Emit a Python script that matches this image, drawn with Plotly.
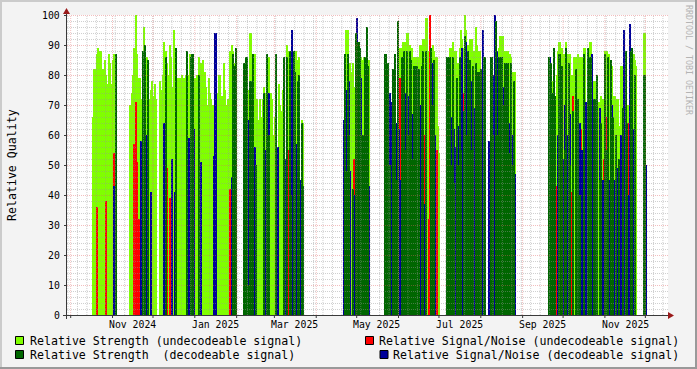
import plotly.graph_objects as go
import pandas as pd

# ---------------- data (daily values, 0 = no value) ----------------
REGION_START = ["2024-10-17", "2024-11-14", "2024-12-06", "2025-02-06", "2025-04-21",
                "2025-05-22", "2025-07-07", "2025-08-07", "2025-09-20", "2025-11-30"]

# Relative Strength (undecodeable signal)
STRENGTH_UNDEC = [
    [66,82,82,87,89,88,88,78,82,85,80,77,87,84,77,85,87,85],
    [70,74,80,89,100,87,79,79,72,85,96,85,86,74,72,75,78,73,77,72],
    [78,75,80,91,88,84,80,90,86,76,95,84,85,79,79,79,80,79,79,80,88,80,87,86,87,73,
     79,80,75,86,84,74,85,81,76,70,79,74,72,70,66,70,74,71,80,68,73,84,75,70,72,68,88,90,88,84,86],
    [0,0,0,0,75,94,80,0,87,64, 72,65,72,66,72,76,74,0,78,86, 74,72,60,66,0,0,77,70,68,75,
     0,0,90,88,0,0,0,0,88,88, 85,86,0,65,64],
    [0,87,95,95,81,84,81,84,76,0, 0,0,0,86,85,86,0,0,85,85],
    [0,0,0,0,62,0,0,86,0,86, 89,89,89,91,91,91,94,94,90,89, 89,86,86,86,86,86,90,90,92,92,
     99,99,88,0,0,90,88,86,86,63, 54],
    [0,0,89,89,91,88,88,84,84,89, 95,92,89,100,95,90,90,92,92,88, 88,96,90,88,88,0,0,0,0],
    [0,0,0,0,0,98,0,89,93,93, 93,73,88,88,88,87,86,81,81,81],
    [0,0,0,78,89,0,80,88,91,89, 89,87,87,91,87,87,87,80,78,86, 86,86,87,86,86,86,89,89,0,80,
     77,91,0,78,78,70,70,71,71,73, 72,72,88,88,87,87,83,83,73,73, 72,72,63,63,83,83,0,0,70,70,
     0,0,87,87,85,83],
    [94,0],
]

# Relative Signal/Noise (undecodeable signal)
SNR_UNDEC = [
    [0,0,0,36,0,0,0,0,0,0, 38,0,0,0,0,0,54,0],
    [0,0,0,57,71,51,32,0,0,0, 0,0,0,0,0,0,0,0,0,0],
    [0,0,0,0,0,49,0,39,0,0, 0,0,0,0,0,0,0,0,0,0, 0,0,0,0,0,0,0,0,0,0, 0,0,0,0,0,0,0,0,0,0,
     0,0,0,0,0,0,0,0,0,0, 0,0,42,0,0,0,0],
    [0,0,0,0,0,0,76,0,0,0, 0,0,0,0,0,0,0,0,0,0, 0,0,0,0,0,0,0,0,0,0, 0,0,0,55,0,0,0,0,0,0,
     0,0,0,0,0],
    [0,0,0,0,0,0,0,0,52,0, 0,0,0,0,0,0,0,0,0,0],
    [0,0,0,0,0,0,0,0,0,0, 0,79,0,0,0,0,0,0,0,0, 0,0,72,0,0,0,0,0,0,60, 0,0,32,100,0,0,0,0,55,0,
     0],
    [0,0,0,0,0,0,0,0,0,0, 0,0,74,0,0,0,0,0,0,0, 0,0,0,0,0,0,0,0,0],
    [0,0,0,0,0,0,0,0,0,0, 0,0,0,64,0,0,0,0,0,0],
    [0,0,0,0,0,0,43,0,0,46, 0,0,0,0,0,0,0,41,73,0, 0,0,0,0,62,0,0,0,0,0, 0,0,0,0,0,0,0,0,0,0,
     0,52,0,66,0,0,0,0,0,0, 0,0,0,36,0,0,0,0,0,64, 0,0,0,0,0,0],
    [0,0],
]

# Relative Signal/Noise (decodeable signal)
SNR_DEC = [
    [0,0,0,0,0,0,0,0,0,0, 0,0,0,0,0,0,43,0],
    [0,0,0,0,0,0,0,0,58,0, 0,0,60,0,0,41,0,0,0,0],
    [0,0,0,64,0,0,0,0,0,52, 0,41,0,0,0,0,0,0,0,0, 0,59,55,0,0,62,0,0,0,0, 51,0,0,0,0,0,0,0,0,0,
     53,94,0,0,0,0,0,0,0,0, 0,0,0,46,0,0,0],
    [0,0,0,0,65,0,0,0,56,0, 0,0,0,0,0,0,55,0,0,74, 0,0,0,0,0,56,0,0,0,0, 0,52,0,0,0,53,95,0,0,57,
     0,0,45,0,0],
    [65,0,75,0,78,48,0,0,40,0, 99,0,0,79,0,58,0,0,0,43],
    [0,65,0,74,0,71,0,0,64,0, 62,45,0,68,0,74,0,73,0,0, 67,0,50,0,74,0,70,0,0,37, 0,0,0,0,0,84,0,60,0,0,
     0],
    [0,68,0,66,0,62,56,0,63,0, 83,89,0,0,91,0,79,0,78,0, 69,0,74,0,67,0,95,0,0],
    [58,0,0,80,100,0,88,0,80,0, 76,0,0,40,0,64,0,60,0,47],
    [0,86,0,0,0,0,0,60,0,0, 0,52,70,0,60,0,67,0,0,0, 0,60,0,64,0,55,0,0,71,0, 0,0,87,0,0,58,0,0,69,0,
     45,0,0,0,0,45,0,70,0,45, 0,49,0,0,60,0,95,0,0,40, 97,0,0,62,0,0],
    [0,50],
]

# Relative Strength (decodeable signal)
STRENGTH_DEC = [
    [0,0,0,0,0,0,0,0,0,0, 0,0,0,0,0,0,0,87],
    [0,0,0,0,0,0,0,0,0,88, 0,90,0,85,0,0,0,0,0,0],
    [0,0,0,0,86,0,0,0,0,0, 0,0,89,0,0,0,0,0,0,0, 88,0,0,86,87,0,0,0,0,80, 0,0,0,0,0,0,0,0,0,0,
     0,0,0,0,0,0,0,0,0,0, 0,0,0,0,87,83,89],
    [84,73,86,10,0,78,0,87,0,50, 0,0,0,0,0,74,0,87,0,60, 0,0,0,0,87,0,0,0,0,0, 86,0,86,0,88,40,0,88,81,0,
     78,80,0,64,43],
    [0,87,48,87,60,0,0,42,0,94, 0,91,89,55,60,0,86,96,83,0],
    [87,0,84,50,0,0,82,87,45,98, 0,0,86,50,88,55,88,60,88,85, 52,83,0,83,48,82,0,83,88,0, 88,0,0,0,89,70,85,0,0,0,
     0],
    [86,0,86,50,86,44,0,79,50,86, 55,0,68,93,60,88,58,85,55,83, 0,84,60,81,45,82,0,86,86],
    [0,86,86,60,0,98,60,86,70,86, 55,70,84,0,84,54,84,50,78,0],
    [86,0,84,74,89,73,0,0,87,0, 83,0,55,89,0,84,50,0,68,0, 82,0,72,40,0,0,87,0,0,89, 86,86,0,0,72,0,80,0,45,64,
     0,0,87,55,86,0,85,45,66,0, 60,0,52,0,0,69,0,88,64,0, 0,88,89,0,80,0],
    [80,0],
]

Y_TICKS = [0, 10, 20, 30, 40, 50, 60, 70, 80, 90, 100]
X_LABELS = ["Nov 2024", "Jan 2025", "Mar 2025", "May 2025", "Jul 2025", "Sep 2025", "Nov 2025"]
X_LABEL_DATES = ["2024-11-16", "2025-01-16", "2025-03-16", "2025-05-16", "2025-07-16", "2025-09-16", "2025-11-16"]

SERIES_NAMES = ["Relative Strength (undecodeable signal)",
                "Relative Signal/Noise (undecodeable signal)",
                "Relative Strength\u00a0 (decodeable signal)",
                "Relative Signal/Noise (decodeable signal)"]
C_LG, C_RED, C_DG, C_BLUE = "#80ff00", "#ff0000", "#006600", "#000099"

# ---------------- geometry ----------------
W, H = 697, 369
ML, MR, MT, MB = 67, 29, 15, 54
PW, PH = W - ML - MR, H - MT - MB
ORIGIN = pd.Timestamp("2024-10-01")
ORIGIN_PX, PX_PER_DAY = 70.7, 1.349


def xp(px):
    return (px - ML) / PW


def yp(py):
    return (MT + PH - py) / PH


x_left = ORIGIN + pd.Timedelta(days=(ML - ORIGIN_PX) / PX_PER_DAY)
x_right = ORIGIN + pd.Timedelta(days=(ML + PW - ORIGIN_PX) / PX_PER_DAY)


def build(series):
    xs, ys = [], []
    for start, vals in zip(REGION_START, series):
        days = pd.date_range(start, periods=len(vals), freq="D") + pd.Timedelta(hours=12)
        for d, v in zip(days, vals):
            if v > 0:
                xs.append(d)
                ys.append(v)
    return xs, ys


for s in (SNR_UNDEC, SNR_DEC, STRENGTH_DEC):
    for a, b in zip(STRENGTH_UNDEC, s):
        assert len(a) == len(b), (len(a), len(b))

fig = go.Figure()
for series, color in ((STRENGTH_UNDEC, C_LG), (SNR_UNDEC, C_RED), (SNR_DEC, C_BLUE), (STRENGTH_DEC, C_DG)):
    xs, ys = build(series)
    fig.add_trace(go.Bar(x=xs, y=ys, width=86400000 * 1.2, marker=dict(color=color, line=dict(width=0)),
                         showlegend=False, hoverinfo="skip"))

shapes = []
GRID_MINOR = "rgba(150,150,150,0.45)"
GRID_MAJOR = "rgba(225,100,100,0.42)"
AXIS = "#3a3a3a"
ARROW = "#9a1a1a"

# horizontal grid
for v in range(2, 101, 2):
    col = GRID_MAJOR if v % 10 == 0 else GRID_MINOR
    yv = v - 0.5 / 3
    shapes.append(dict(type="line", xref="paper", yref="y", x0=0, x1=1, y0=yv, y1=yv,
                       line=dict(color=col, width=1, dash="1px,1px"), layer="above"))
# vertical minor grid (weekly, Sundays)
for d in pd.date_range("2024-09-29", "2025-12-14", freq="7D"):
    shapes.append(dict(type="line", xref="x", yref="paper", x0=d, x1=d, y0=0, y1=1,
                       line=dict(color=GRID_MINOR, width=1, dash="1px,1px"), layer="above"))
# vertical major grid (month starts) + ticks
for d in pd.date_range("2024-10-01", "2025-12-01", freq="MS"):
    shapes.append(dict(type="line", xref="x", yref="paper", x0=d, x1=d, y0=0, y1=1,
                       line=dict(color=GRID_MAJOR, width=1, dash="1px,1px"), layer="above"))
    shapes.append(dict(type="line", xref="x", yref="paper", x0=d, x1=d, y0=yp(315), y1=yp(318),
                       line=dict(color=AXIS, width=1), layer="above"))
# y ticks
for v in Y_TICKS:
    yv = v - 0.5 / 3
    shapes.append(dict(type="line", xref="paper", yref="y", x0=xp(64), x1=xp(67), y0=yv, y1=yv,
                       line=dict(color=AXIS, width=1), layer="above"))
# axes
shapes.append(dict(type="line", xref="paper", yref="paper", x0=xp(63), x1=xp(670), y0=yp(315.5), y1=yp(315.5),
                   line=dict(color=AXIS, width=1), layer="above"))
shapes.append(dict(type="line", xref="paper", yref="paper", x0=xp(66.5), x1=xp(66.5), y0=yp(319), y1=yp(12),
                   line=dict(color=AXIS, width=1), layer="above"))
# arrows
shapes.append(dict(type="path", xref="paper", yref="paper",
                   path=f"M {xp(66.5)},{yp(8)} L {xp(63)},{yp(14)} L {xp(70)},{yp(14)} Z",
                   fillcolor=ARROW, line=dict(width=0), layer="above"))
shapes.append(dict(type="path", xref="paper", yref="paper",
                   path=f"M {xp(674)},{yp(315.5)} L {xp(668)},{yp(312)} L {xp(668)},{yp(319)} Z",
                   fillcolor=ARROW, line=dict(width=0), layer="above"))
# frame
for (x0, y0, x1, y1, c) in ((0, 0, W, 2, "#cbcbcb"), (0, 0, 2, H, "#cbcbcb"),
                            (0, H - 2, W, H, "#999999"), (W - 2, 0, W, H, "#999999")):
    shapes.append(dict(type="rect", xref="paper", yref="paper", x0=xp(x0), x1=xp(x1), y0=yp(y0), y1=yp(y1),
                       fillcolor=c, line=dict(width=0), layer="above"))
# legend boxes
for (bx, by, c) in ((15, 336, C_LG), (365, 336, C_RED), (15, 350, C_DG), (379.5, 350, C_BLUE)):
    shapes.append(dict(type="rect", xref="paper", yref="paper", x0=xp(bx + 0.5), x1=xp(bx + 8.5),
                       y0=yp(by + 0.5), y1=yp(by + 8.5), fillcolor=c, line=dict(color="#000000", width=1),
                       layer="above"))

MONO = "DejaVu Sans Mono"
ann = []
for v in Y_TICKS:
    ann.append(dict(text=str(v), xref="paper", yref="y", x=xp(60), y=v, xanchor="right", yanchor="middle",
                    showarrow=False, borderpad=0, borderwidth=0, font=dict(family=MONO, size=9.8, color="#000")))
for t, d in zip(X_LABELS, X_LABEL_DATES):
    ann.append(dict(text=t, xref="x", yref="paper", x=d, y=yp(324.5), xanchor="center", yanchor="middle",
                    showarrow=False, borderpad=0, borderwidth=0, font=dict(family=MONO, size=9.8, color="#000")))
ann.append(dict(text="Relative Quality", xref="paper", yref="paper", x=xp(12), y=yp(165), textangle=-90,
                xanchor="center", yanchor="middle", showarrow=False, borderpad=0, borderwidth=0,
                font=dict(family=MONO, size=11.6, color="#000")))
ann.append(dict(text="RRDTOOL / TOBI OETIKER", xref="paper", yref="paper", x=xp(689), y=yp(60), textangle=90,
                xanchor="center", yanchor="middle", showarrow=False, borderpad=0, borderwidth=0,
                font=dict(family=MONO, size=8.3, color="#b4b4b4")))
for (tx, ty, anchor, txt) in ((30, 340.5, "left", SERIES_NAMES[0]), (30, 354.5, "left", SERIES_NAMES[2]),
                              (679, 340.5, "right", SERIES_NAMES[1]), (679, 354.5, "right", SERIES_NAMES[3])):
    ann.append(dict(text=txt, xref="paper", yref="paper", x=xp(tx), y=yp(ty), xanchor=anchor, yanchor="middle",
                    showarrow=False, borderpad=0, borderwidth=0, font=dict(family=MONO, size=11.6, color="#000")))

fig.update_layout(
    width=W, height=H, autosize=False,
    margin=dict(l=ML, r=MR, t=MT, b=MB, pad=0),
    paper_bgcolor="#f3f3f3", plot_bgcolor="#ffffff",
    barmode="overlay", bargap=0, showlegend=False,
    xaxis=dict(type="date", range=[x_left, x_right], showgrid=False, zeroline=False, showline=False,
               showticklabels=False, ticks="", fixedrange=True),
    yaxis=dict(range=[0, 100], showgrid=False, zeroline=False, showline=False, showticklabels=False,
               ticks="", fixedrange=True),
    shapes=shapes, annotations=ann,
)

fig.write_html("out.html", config={"displayModeBar": False})
